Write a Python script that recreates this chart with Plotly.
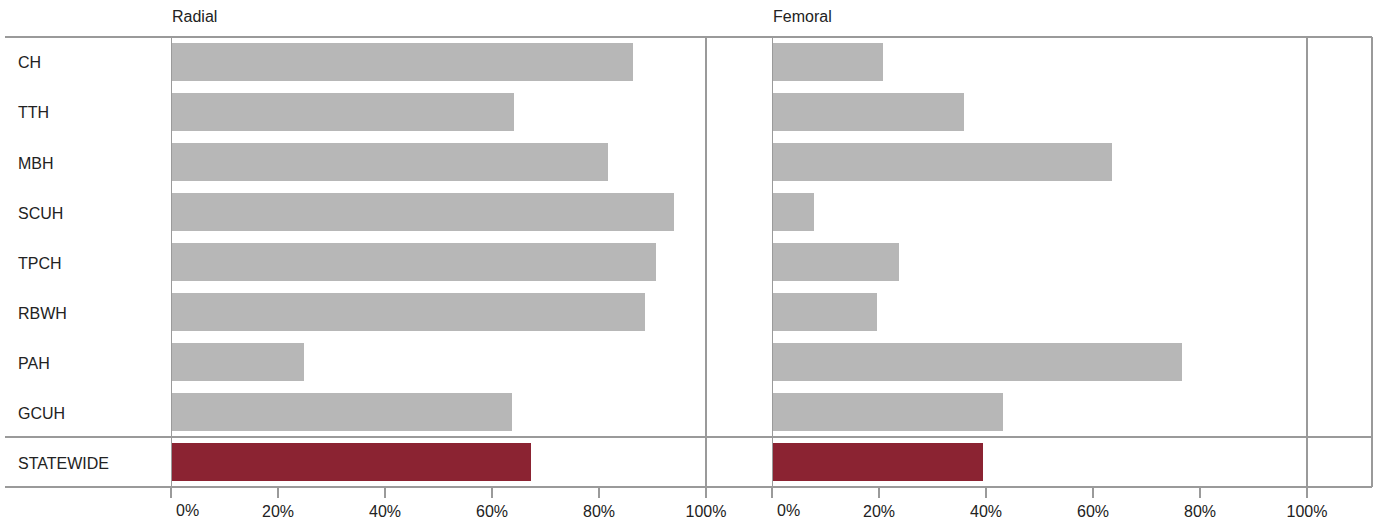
import plotly.graph_objects as go

# Share of procedures by access route, per hospital
hospitals = ["CH", "TTH", "MBH", "SCUH", "TPCH", "RBWH", "PAH", "GCUH", "STATEWIDE"]
radial = [0.864, 0.641, 0.817, 0.940, 0.907, 0.886, 0.249, 0.637, 0.673]
femoral = [0.207, 0.359, 0.636, 0.079, 0.237, 0.196, 0.766, 0.432, 0.394]
panel_titles = ["Radial", "Femoral"]
tick_vals = [0, 0.2, 0.4, 0.6, 0.8, 1.0]
tick_text = ["", "20%", "40%", "60%", "80%", "100%"]
zero_label = "0%"

W, H = 1375, 524
FONT = "Liberation Sans, Arial, sans-serif"
TEXT = "#222222"
LINE = "#9a9a9a"
GREY = "#b7b7b7"
MAROON = "#8b2332"


def px(x):
    return x / W


def py(y):
    return 1 - y / H


bar_colors = [MAROON if h == "STATEWIDE" else GREY for h in hospitals]
x_max = 600 / 535  # axis extends a little past 100%

fig = go.Figure()
for i, vals in enumerate([radial, femoral]):
    suffix = "" if i == 0 else "2"
    fig.add_trace(go.Bar(
        x=vals, y=hospitals, orientation="h",
        marker=dict(color=bar_colors, line=dict(width=0)),
        width=0.76,
        xaxis="x" + suffix, yaxis="y" + suffix,
        hoverinfo="x+y",
    ))

x_common = dict(
    range=[0, x_max], tickvals=tick_vals, ticktext=tick_text,
    ticks="outside", ticklen=10, tickwidth=1.5, tickcolor=LINE,
    showgrid=False, zeroline=False, showline=False, fixedrange=True,
    tickfont=dict(family=FONT, size=16, color=TEXT),
)
y_common = dict(
    domain=[py(487), py(37)], type="category", categoryarray=hospitals,
    range=[len(hospitals) - 0.5, -0.5], showticklabels=False,
    showgrid=False, zeroline=False, showline=False, ticks="", fixedrange=True,
)

fig.update_layout(
    width=W, height=H,
    margin=dict(l=0, r=0, t=0, b=0),
    paper_bgcolor="white", plot_bgcolor="white",
    showlegend=False, bargap=0,
    font=dict(family=FONT, size=16, color=TEXT),
    xaxis=dict(domain=[px(171), px(771)], anchor="y", **x_common),
    xaxis2=dict(domain=[px(772), px(1372)], anchor="y2", **x_common),
    yaxis=dict(anchor="x", **y_common),
    yaxis2=dict(anchor="x2", **y_common),
)

shapes = []
# horizontal rules: top, above the statewide row, bottom
for y in [37, 437, 487]:
    shapes.append(dict(type="line", xref="paper", yref="paper",
                       x0=px(5), x1=px(1372), y0=py(y), y1=py(y),
                       line=dict(color=LINE, width=2), layer="above"))
# vertical reference lines at 0% and 100% of each panel
for xr in ["x", "x2"]:
    for xv in [0, 1]:
        shapes.append(dict(type="line", xref=xr, yref="paper",
                           x0=xv, x1=xv, y0=py(487), y1=py(37),
                           line=dict(color=LINE, width=2), layer="above"))
# right border
shapes.append(dict(type="line", xref="paper", yref="paper",
                   x0=px(1372), x1=px(1372), y0=py(487), y1=py(37),
                   line=dict(color=LINE, width=2), layer="above"))
fig.update_layout(shapes=shapes)

annotations = []
# row labels
for h in hospitals:
    annotations.append(dict(text=h, xref="paper", yref="y", x=px(16), y=h,
                            xanchor="left", yanchor="middle", yshift=-1,
                            showarrow=False,
                            font=dict(family=FONT, size=16, color=TEXT)))
# panel titles and left-aligned zero labels
for xr, title in zip(["x", "x2"], panel_titles):
    annotations.append(dict(text=title, xref=xr, yref="paper", x=0, y=py(16),
                            xanchor="left", yanchor="middle", xshift=-1,
                            showarrow=False,
                            font=dict(family=FONT, size=16, color=TEXT)))
    annotations.append(dict(text=zero_label, xref=xr, yref="paper", x=0, y=py(510),
                            xanchor="left", yanchor="middle", xshift=3,
                            showarrow=False,
                            font=dict(family=FONT, size=16, color=TEXT)))
fig.update_layout(annotations=annotations)

fig.write_html("out.html")
